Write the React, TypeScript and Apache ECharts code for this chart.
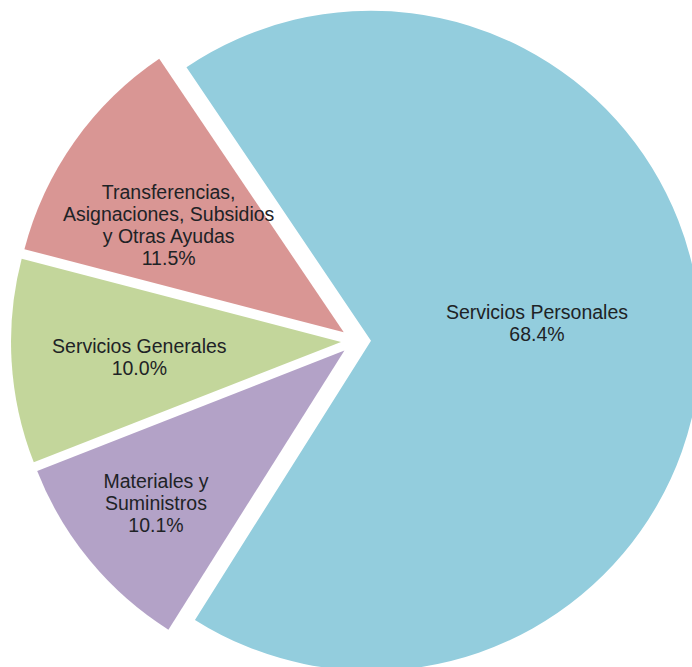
import React, { useEffect, useRef } from "react";
import * as echarts from "echarts";

const categories = [
  "Servicios Personales",
  "Materiales y Suministros",
  "Servicios Generales",
  "Transferencias, Asignaciones, Subsidios y Otras Ayudas",
];
const labelNames = [
  "Servicios Personales",
  "Materiales y\nSuministros",
  "Servicios Generales",
  "Transferencias,\nAsignaciones, Subsidios\ny Otras Ayudas",
];
const values = [68.4, 10.1, 10.0, 11.5];
const colors = ["#93CDDD", "#B3A2C7", "#C3D69B", "#D99694"];
// label nudges (px) to mimic the original label placement
const labelDx = [-2, -59, -34, -38];
const labelDy = [-15, 45, 5, -10];

export default function App() {
  const ref = useRef<HTMLDivElement>(null);
  useEffect(() => {
    if (!ref.current) return;
    const chart = echarts.init(ref.current, null, { renderer: "svg" });
    chart.setOption({
      animation: false,
      backgroundColor: "#ffffff",
      series: [
        {
          type: "pie",
          center: [356, 341],
          radius: [0, 330],
          startAngle: 124,
          clockwise: true,
          selectedMode: "multiple",
          selectedOffset: 15,
          silent: true,
          emphasis: { disabled: true },
          labelLine: { show: false },
          label: {
            show: true,
            position: "inside",
            color: "#1e2326",
            fontFamily: "Liberation Sans, Arial, sans-serif",
            fontSize: 19.5,
            lineHeight: 22,
            align: "center",
            formatter: (p: any) =>
              labelNames[p.dataIndex] + "\n" + values[p.dataIndex].toFixed(1) + "%",
          },
          labelLayout: (p: any) => ({
            dx: labelDx[p.dataIndex],
            dy: labelDy[p.dataIndex],
          }),
          data: categories.map((name, i) => ({
            name,
            value: values[i],
            selected: true,
            itemStyle: { color: colors[i], borderWidth: 0 },
          })),
        },
      ],
    });
    return () => chart.dispose();
  }, []);
  return (
    <div
      ref={ref}
      style={{ position: "fixed", left: 0, top: 0, width: 692, height: 667 }}
    />
  );
}
